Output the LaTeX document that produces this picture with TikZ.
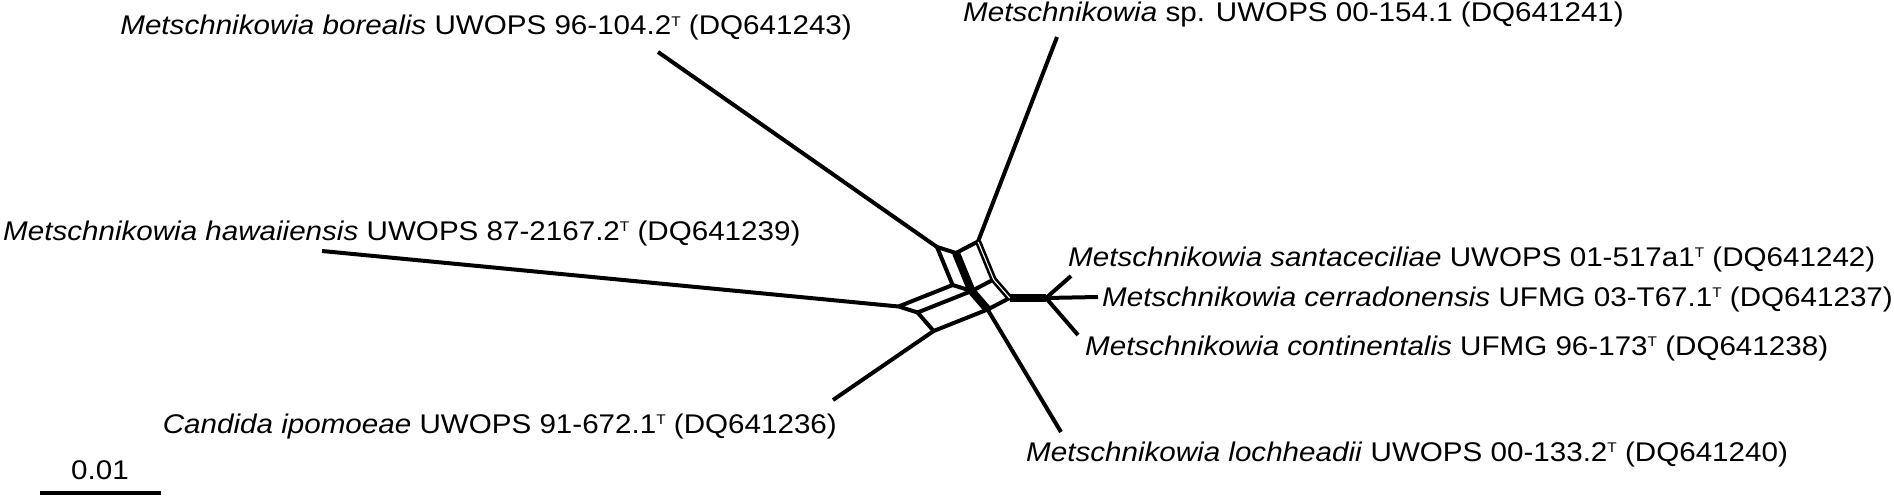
\documentclass[tikz,border=0pt]{standalone}
\usepackage{fontspec}
\setmainfont{Liberation Sans}[FakeStretch=1.096]
\newcommand\supT{\raisebox{8.5pt}{\fontsize{14}{14}\selectfont T}}
\begin{document}
\begin{tikzpicture}[x=1pt,y=-1pt,
  edge/.style={line width=4pt, line join=round},
  thickedge/.style={line width=8pt, line join=round},
  dbl/.style={draw=black, double=white, double distance=1.1pt, line width=2.6pt, line join=round},
  lbl/.style={inner sep=0pt, font=\fontsize{27}{32}\selectfont}]
\useasboundingbox (0,0) rectangle (1894,500);
% network nodes
\coordinate (nB) at (937,247);
\coordinate (na) at (956,253);
\coordinate (nS) at (978,241.5);
\coordinate (nc) at (952.6,285);
\coordinate (nac) at (971.6,291);
\coordinate (nabc) at (993.6,279.5);
\coordinate (nX) at (1009.6,298);
\coordinate (nL) at (987.6,309.5);
\coordinate (nCi) at (933.6,331);
\coordinate (nP) at (917.6,312.5);
\coordinate (nH) at (898.6,306.5);
\coordinate (nXc) at (1046,298);
% leaf ends
\coordinate (tB) at (658,52);
\coordinate (tS) at (1057,37);
\coordinate (tH) at (322,251);
\coordinate (tCi) at (833,400);
\coordinate (tL) at (1061,432);
\coordinate (tSa) at (1071,276);
\coordinate (tCe) at (1098,297);
\coordinate (tCo) at (1078,335);
% internal edges
\draw[edge] (nB) -- (na);
\draw[edge] (na) -- (nS);
\draw[edge] (nB) -- (nc);
\draw[edge] (nc) -- (nac);
\draw[edge] (nac) -- (nabc);
\draw[edge] (nX) -- (nL);
\draw[edge] (nL) -- (nCi);
\draw[edge] (nCi) -- (nP);
\draw[edge] (nP) -- (nH);
\draw[edge] (nP) -- (nac);
\draw[edge] (nH) -- (nc);
\draw[thickedge] (na) -- (nac) -- (nL);
\draw[dbl] (nS) -- (nabc) -- (nX);
\draw[thickedge] (nX) -- (nXc);
% leaf edges
\draw[edge] (nB) -- (tB);
\draw[edge] (nS) -- (tS);
\draw[edge] (nH) -- (tH);
\draw[edge] (nCi) -- (tCi);
\draw[edge] (nL) -- (tL);
\draw[edge] (nXc) -- (tSa);
\draw[edge] (nXc) -- (tCe);
\draw[edge] (nXc) -- (tCo);
% labels
\node[lbl, anchor=base east] (lB) at (852,35) {\textit{Metschnikowia borealis} UWOPS 96-104.2\supT\ (DQ641243)};
\node[lbl, anchor=base west] (lS) at (963,22) {\textit{Metschnikowia} sp. UWOPS 00-154.1 (DQ641241)};
\node[lbl, anchor=base west] (lH) at (3,240) {\textit{Metschnikowia hawaiiensis} UWOPS 87-2167.2\supT\ (DQ641239)};
\node[lbl, anchor=base west] (lSa) at (1068,266) {\textit{Metschnikowia santaceciliae} UWOPS 01-517a1\supT\ (DQ641242)};
\node[lbl, anchor=base west] (lCe) at (1102,306) {\textit{Metschnikowia cerradonensis} UFMG 03-T67.1\supT\ (DQ641237)};
\node[lbl, anchor=base west] (lCo) at (1085,355) {\textit{Metschnikowia continentalis} UFMG 96-173\supT\ (DQ641238)};
\node[lbl, anchor=base east] (lCi) at (837,433) {\textit{Candida ipomoeae} UWOPS 91-672.1\supT\ (DQ641236)};
\node[lbl, anchor=base west] (lL) at (1026,461) {\textit{Metschnikowia lochheadii} UWOPS 00-133.2\supT\ (DQ641240)};
% scale bar
\coordinate (sb1) at (40,493);
\coordinate (sb2) at (161,493);
\draw[line width=4pt] (sb1) -- (sb2);
\node[lbl, anchor=base] (lsb) at (100,479) {0.01};
\end{tikzpicture}
\end{document}
